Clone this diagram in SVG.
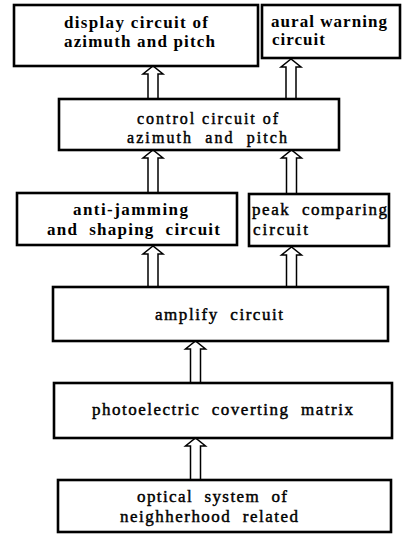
<svg xmlns="http://www.w3.org/2000/svg" width="406" height="534" viewBox="0 0 406 534">
  <style>
    .box { fill: #fff; stroke: #000; stroke-width: 2.6; }
    .arrow { fill: #fff; stroke: #000; stroke-width: 1.5; stroke-linejoin: miter; }
    text { font-family: "Liberation Serif", "Times New Roman", serif; font-size: 17px; fill: #000; white-space: pre; }
    .b { font-weight: bold; }
    .r { font-weight: normal; stroke: #000; stroke-width: 0.45; }
    .s { font-size: 16px; }
  </style>
  <rect width="406" height="534" fill="#fff"/>

  <!-- connectors: hollow block arrows pointing upward -->
  <g id="connectors">
    <path class="arrow" d="M148,99 V74 H143 L153,66 L163,74 H158 V99"/>
    <path class="arrow" d="M286,99 V67 H281 L291,59 L301,67 H296 V99"/>
    <path class="arrow" d="M148,193 V158 H143 L153,150 L163,158 H158 V193"/>
    <path class="arrow" d="M286.5,193 V158 H281.5 L291.5,150 L301.5,158 H296.5 V193"/>
    <path class="arrow" d="M148,287 V254 H143 L153,246 L163,254 H158 V287"/>
    <path class="arrow" d="M286.5,287 V255 H281.5 L291.5,247 L301.5,255 H296.5 V287"/>
    <path class="arrow" d="M190.5,383 V349 H185.5 L195.5,341 L205.5,349 H200.5 V383"/>
    <path class="arrow" d="M190.5,480 V446 H185.5 L195.5,438 L205.5,446 H200.5 V480"/>
  </g>

  <g id="display">
    <rect class="box" x="14" y="5" width="244" height="61"/>
    <text class="b" x="64" y="28" textLength="144" lengthAdjust="spacing">display circuit of</text>
    <text class="b" x="64" y="47" textLength="151" lengthAdjust="spacing">azimuth and pitch</text>
  </g>

  <g id="aural">
    <rect class="box" x="262" y="5" width="138" height="53"/>
    <text class="b" x="271" y="27" textLength="116" lengthAdjust="spacing">aural warning</text>
    <text class="b" x="272" y="45" textLength="53" lengthAdjust="spacing">circuit</text>
  </g>

  <g id="control">
    <rect class="box" x="59" y="99" width="280" height="51"/>
    <text class="r s" x="137" y="124" textLength="141" lengthAdjust="spacing">control circuit of</text>
    <text class="r s" x="127" y="143" textLength="160" lengthAdjust="spacing">azimuth  and  pitch</text>
  </g>

  <g id="anti-jamming">
    <rect class="box" x="17" y="193" width="220" height="52"/>
    <text class="b" x="73" y="215" textLength="115" lengthAdjust="spacing">anti-jamming</text>
    <text class="b" x="47" y="235" textLength="173" lengthAdjust="spacing">and  shaping  circuit</text>
  </g>

  <g id="peak">
    <rect class="box" x="249" y="194" width="140" height="52"/>
    <text class="r" x="252" y="215" textLength="135" lengthAdjust="spacing">peak  comparing</text>
    <text class="r" x="253" y="235" textLength="55" lengthAdjust="spacing">circuit</text>
  </g>

  <g id="amplify">
    <rect class="box" x="53" y="287" width="335" height="54"/>
    <text class="r" x="155" y="320" textLength="128" lengthAdjust="spacing">amplify  circuit</text>
  </g>

  <g id="photoelectric">
    <rect class="box" x="54" y="383" width="338" height="55"/>
    <text class="r" x="92" y="415" textLength="261" lengthAdjust="spacing">photoelectric  coverting  matrix</text>
  </g>

  <g id="optical">
    <rect class="box" x="58" y="480" width="333" height="52"/>
    <text class="r" x="137" y="502" textLength="150" lengthAdjust="spacing">optical  system  of</text>
    <text class="r" x="120" y="522" textLength="178" lengthAdjust="spacing">neighherhood  related</text>
  </g>
</svg>
